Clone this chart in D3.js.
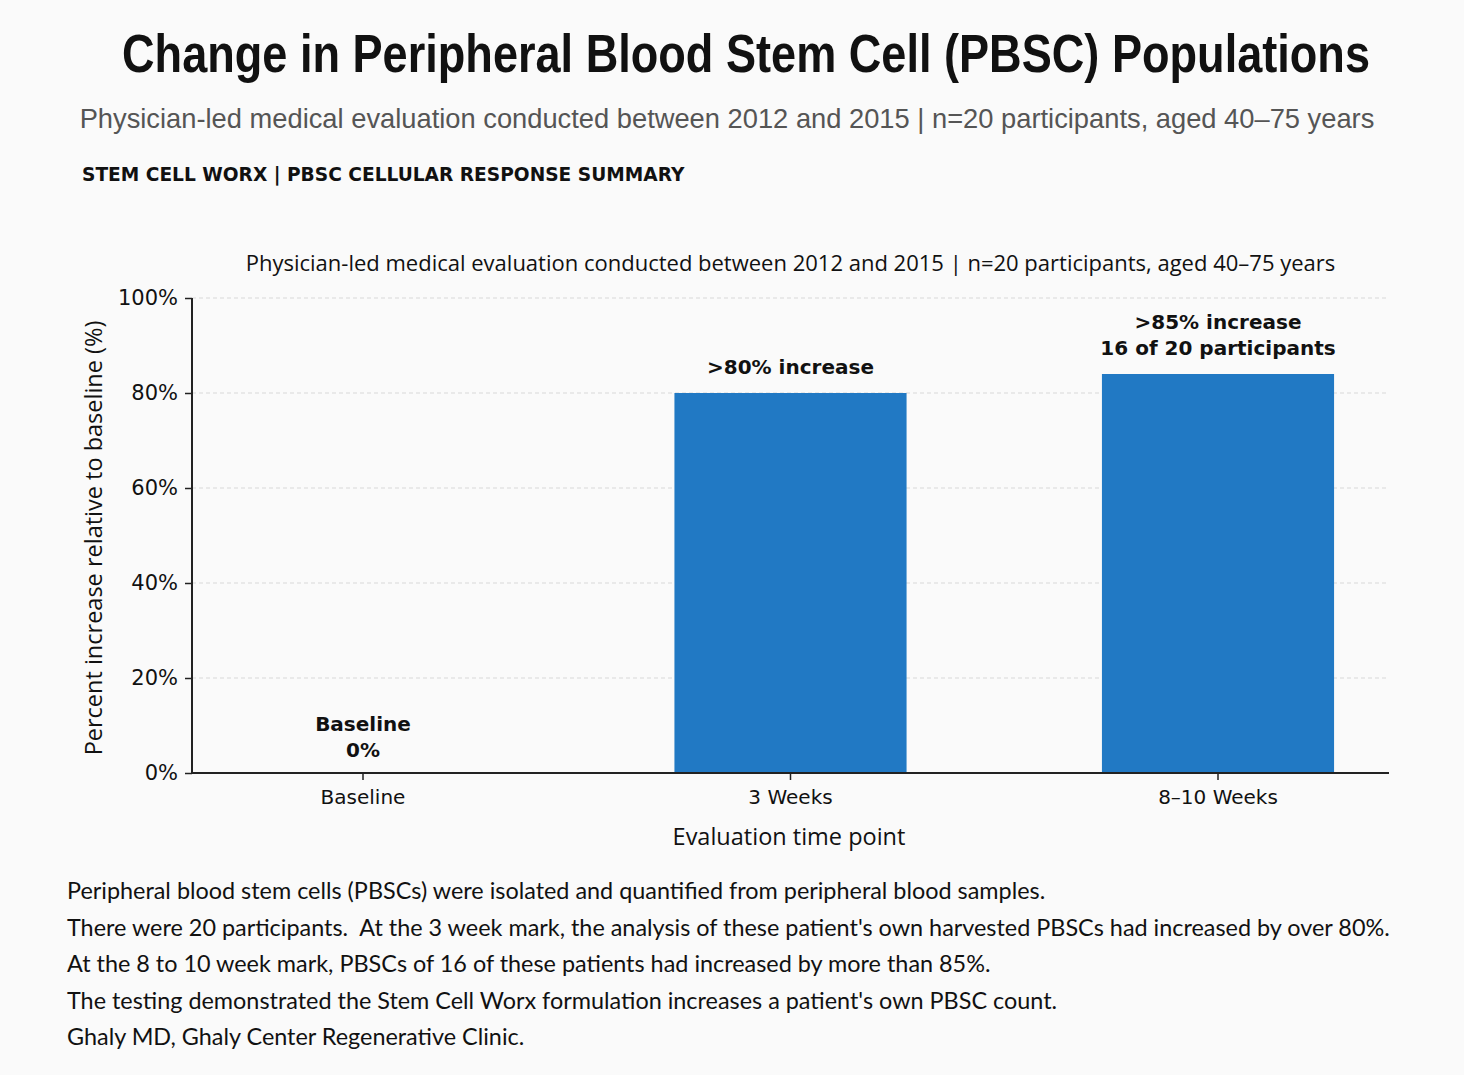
<!DOCTYPE html>
<html>
<head>
<meta charset="utf-8">
<script src="https://cdn.jsdelivr.net/npm/d3@7"></script>
<style>
  body { margin: 0; background: #fafafa; }
  svg { display: block; }
</style>
</head>
<body>
<div id="chart"></div>
<script>
// chart data
var categories = ["Baseline", "3 Weeks", "8\u201310 Weeks"];
var values = [0, 80, 84];
var barLabels = [["Baseline", "0%"], [">80% increase"], [">85% increase", "16 of 20 participants"]];
var yTicks = [0, 20, 40, 60, 80, 100];
var notes = [
    "Peripheral blood stem cells (PBSCs) were isolated and quantified from peripheral blood samples.",
    "There were 20 participants.  At the 3 week mark, the analysis of these patient's own harvested PBSCs had increased by over 80%.",
    "At the 8 to 10 week mark, PBSCs of 16 of these patients had increased by more than 85%.",
    "The testing demonstrated the Stem Cell Worx formulation increases a patient's own PBSC count.",
    "Ghaly MD, Ghaly Center Regenerative Clinic."
];

var width = 1464, height = 1075;
var plotLeft = 192, plotRight = 1389, plotTop = 298, plotBottom = 773;

var svg = d3.select("#chart").append("svg")
    .attr("width", width)
    .attr("height", height);

svg.append("rect").attr("width", width).attr("height", height).attr("fill", "#fafafa");

// header - squeeze a bold sans to look condensed
var title = svg.append("text")
    .attr("text-anchor", "middle")
    .style("font-family", "'Liberation Sans', Arial, sans-serif")
    .style("font-weight", "bold")
    .style("font-size", "54px")
    .attr("fill", "#111")
    .text("Change in Peripheral Blood Stem Cell (PBSC) Populations");
var tw = title.node().getComputedTextLength();
title.attr("transform", "translate(746,72) scale(" + (1248 / tw) + ",1)");

svg.append("text")
    .attr("x", 727).attr("y", 128)
    .attr("text-anchor", "middle")
    .style("font-family", "'Liberation Sans', Arial, sans-serif")
    .style("font-size", "27.3px")
    .attr("fill", "#555")
    .text("Physician-led medical evaluation conducted between 2012 and 2015 | n=20 participants, aged 40\u201375 years");

svg.append("text")
    .attr("x", 82).attr("y", 181)
    .style("font-family", "'DejaVu Sans', sans-serif")
    .style("font-weight", "bold")
    .style("font-size", "18.6px")
    .attr("fill", "#111")
    .text("STEM CELL WORX | PBSC CELLULAR RESPONSE SUMMARY");

// scales
var x = d3.scaleBand()
    .domain(categories)
    .range([plotLeft, plotRight])
    .paddingInner(0.457)
    .paddingOuter(0.1285);

var y = d3.scaleLinear()
    .domain([0, 100])
    .range([plotBottom, plotTop]);

// grid
svg.append("g")
    .selectAll("line")
    .data(yTicks.slice(1))
    .enter().append("line")
    .attr("x1", plotLeft).attr("x2", plotRight)
    .attr("y1", function(d) { return y(d); })
    .attr("y2", function(d) { return y(d); })
    .attr("stroke", "#d8d8d8")
    .attr("stroke-width", 1)
    .attr("stroke-dasharray", "4,3");

// bars
svg.append("g")
    .selectAll("rect")
    .data(values)
    .enter().append("rect")
    .attr("x", function(d, i) { return x(categories[i]); })
    .attr("width", x.bandwidth())
    .attr("y", function(d) { return y(d); })
    .attr("height", function(d) { return y(0) - y(d); })
    .attr("fill", "#2179c4");

// axes
var yAxis = svg.append("g")
    .attr("transform", "translate(" + plotLeft + ",0)")
    .call(d3.axisLeft(y).tickValues(yTicks).tickFormat(function(d) { return d + "%"; }).tickSize(7).tickPadding(7));
var xAxis = svg.append("g")
    .attr("transform", "translate(0," + plotBottom + ")")
    .call(d3.axisBottom(x).tickSize(7).tickPadding(10));
[yAxis, xAxis].forEach(function(a) {
    a.select(".domain").attr("stroke", "#222").attr("stroke-width", 2);
    a.selectAll(".tick line").attr("stroke", "#222").attr("stroke-width", 1.5);
    a.selectAll("text")
        .style("font-family", "'DejaVu Sans', sans-serif")
        .style("font-size", "20px")
        .attr("fill", "#111");
});
yAxis.selectAll("text").style("font-size", "21px");
xAxis.select(".domain").attr("d", "M" + plotLeft + ",0H" + plotRight);
yAxis.select(".domain").attr("d", "M0," + plotBottom + "V" + plotTop);

// bar labels
svg.append("g")
    .selectAll("text")
    .data(barLabels)
    .enter().append("text")
    .attr("text-anchor", "middle")
    .style("font-family", "'DejaVu Sans', sans-serif")
    .style("font-weight", "bold")
    .style("font-size", "20px")
    .attr("fill", "#111")
    .each(function(lines, i) {
        var cx = x(categories[i]) + x.bandwidth() / 2;
        var base = values[i] === 0 ? y(0) - 16 : y(values[i]) - 19;
        d3.select(this).selectAll("tspan")
            .data(lines)
            .enter().append("tspan")
            .attr("x", cx)
            .attr("y", function(d, j) { return base - (lines.length - 1 - j) * 26; })
            .text(function(d) { return d; });
    });

// axis titles
svg.append("text")
    .attr("x", (plotLeft + plotRight) / 2).attr("y", 271)
    .attr("text-anchor", "middle")
    .style("font-family", "'Open Sans', sans-serif")
    .style("font-size", "22px")
    .attr("fill", "#111")
    .text("Physician-led medical evaluation conducted between 2012 and 2015 | n=20 participants, aged 40\u201375 years");

svg.append("text")
    .attr("x", 789).attr("y", 845)
    .attr("text-anchor", "middle")
    .style("font-family", "'Open Sans', sans-serif")
    .style("font-size", "23.5px")
    .attr("fill", "#111")
    .text("Evaluation time point");

svg.append("text")
    .attr("transform", "translate(102,538) rotate(-90)")
    .attr("text-anchor", "middle")
    .style("font-family", "'Open Sans', sans-serif")
    .style("font-size", "23.5px")
    .attr("fill", "#111")
    .text("Percent increase relative to baseline (%)");

// notes
svg.append("g")
    .selectAll("text")
    .data(notes)
    .enter().append("text")
    .attr("x", 67)
    .attr("y", function(d, i) { return 899 + i * 36.5; })
    .style("white-space", "pre")
    .style("font-family", "Lato, 'Noto Sans', sans-serif")
    .style("font-size", "23.4px")
    .attr("fill", "#111")
    .text(function(d) { return d; });
</script>
</body>
</html>
